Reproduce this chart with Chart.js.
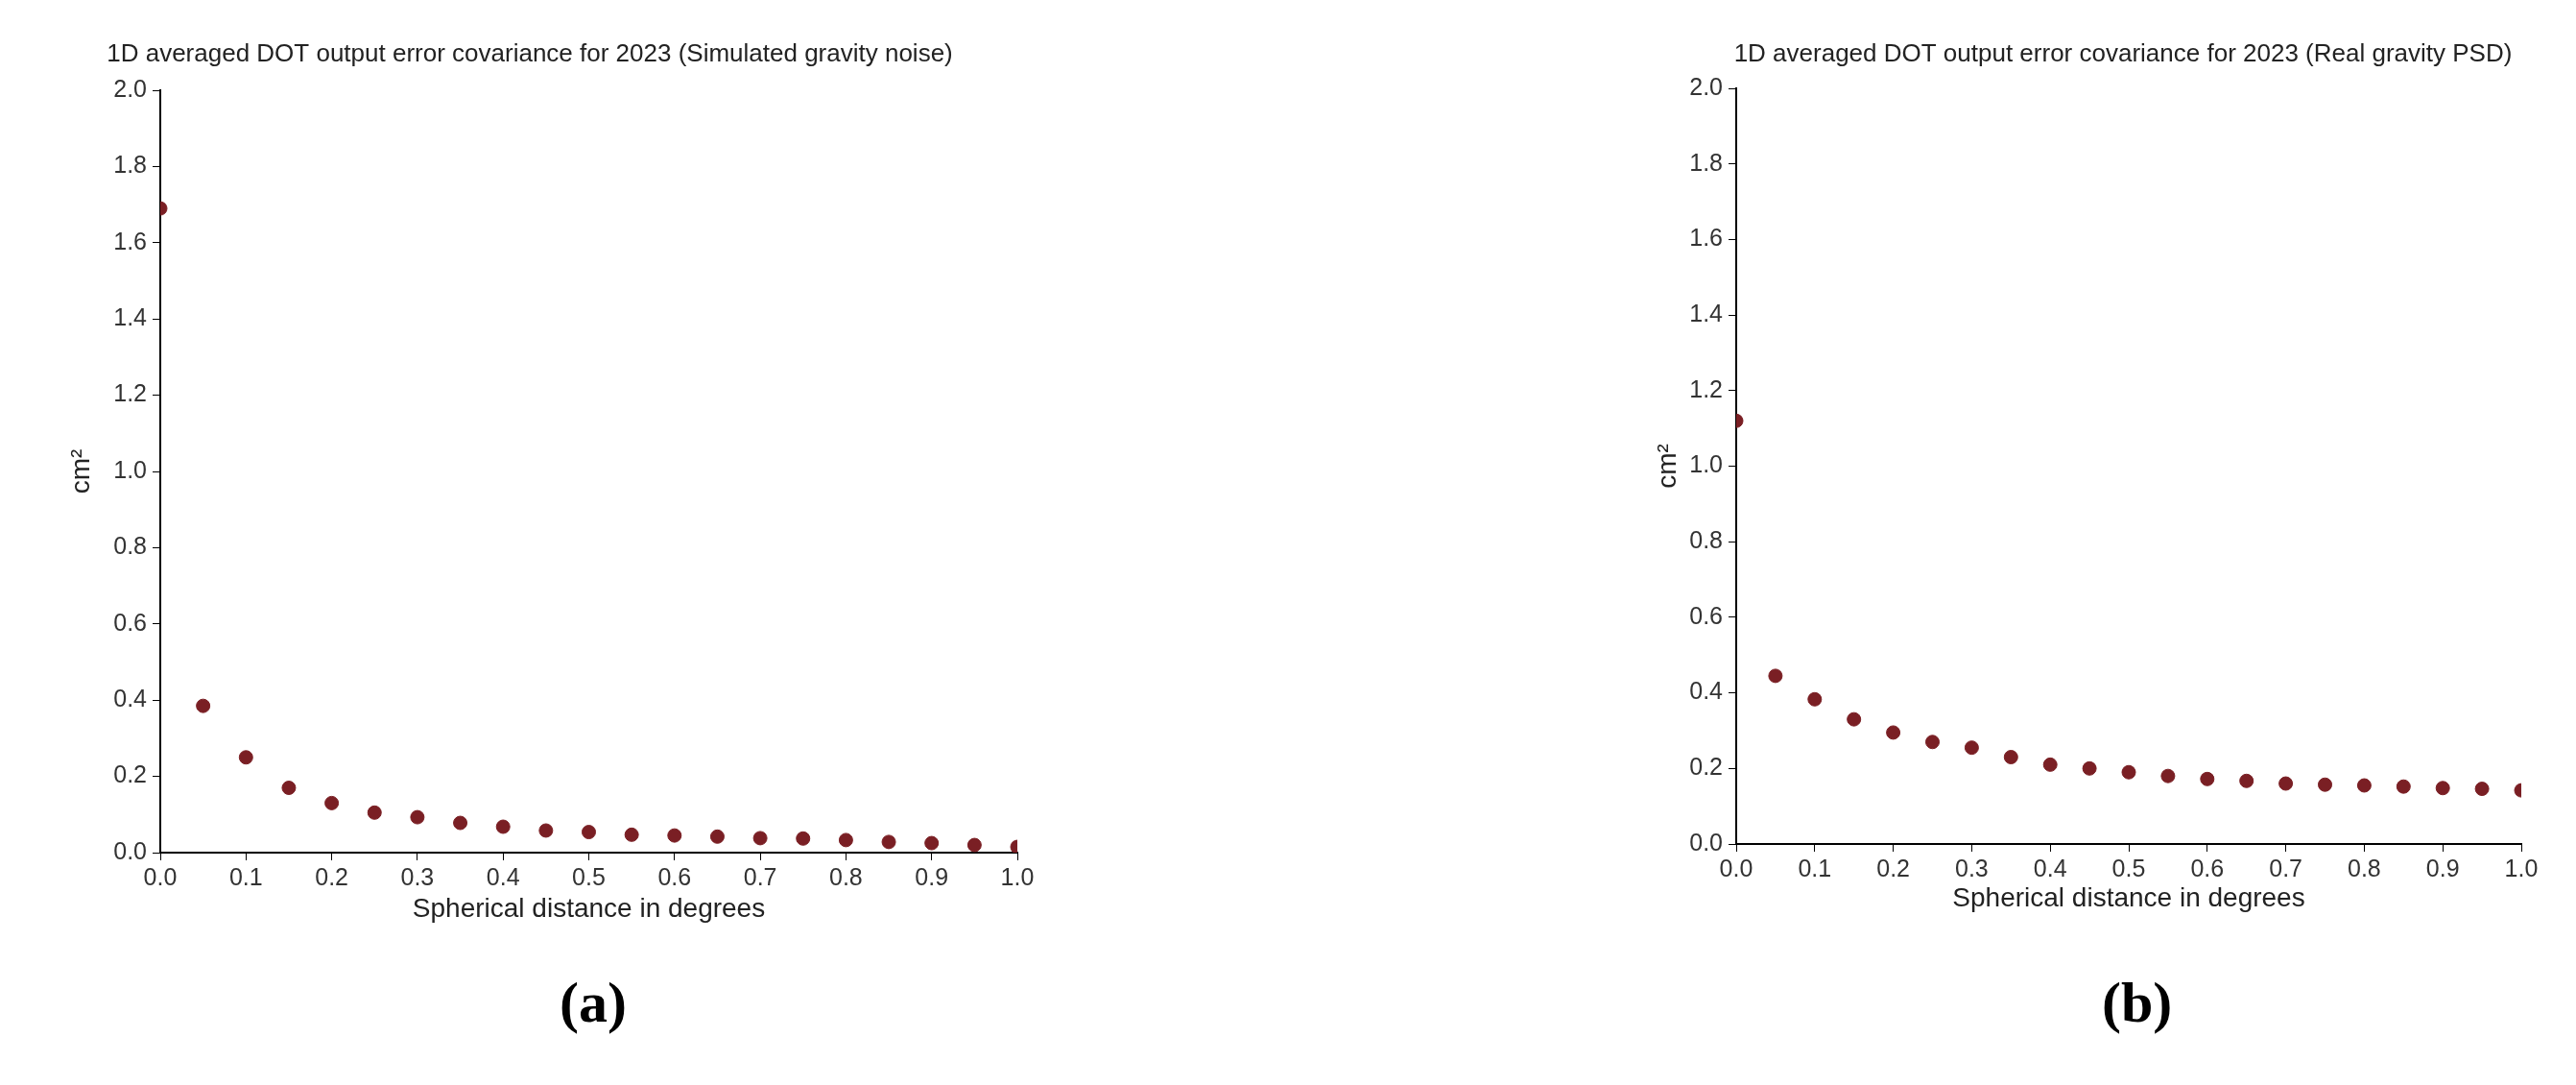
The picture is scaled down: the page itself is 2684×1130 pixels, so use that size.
<!DOCTYPE html>
<html>
<head>
<meta charset="utf-8">
<script src="https://cdn.jsdelivr.net/npm/chart.js@4/dist/chart.umd.min.js"></script>
<style>
  body { margin: 0; background: #fff; width: 2684px; height: 1130px; position: relative; overflow: hidden; }
  .box { position: absolute; top: 0; height: 1000px; }
  .lab { position: absolute; top: 1010px; font: bold 60px "Liberation Serif", serif; color: #000; }
</style>
</head>
<body>
<div class="box" style="left:0;width:1100px"><canvas id="chartA"></canvas></div>
<div class="box" style="left:1640px;width:1044px"><canvas id="chartB"></canvas></div>
<div class="lab" style="left:583px">(a)</div>
<div class="lab" style="left:2190px">(b)</div>
<script>
const distances = [0, 0.05, 0.1, 0.15, 0.2, 0.25, 0.3, 0.35, 0.4, 0.45, 0.5, 0.55, 0.6, 0.65, 0.7, 0.75, 0.8, 0.85, 0.9, 0.95, 1.0];
const covSimulated = [1.69, 0.385, 0.25, 0.17, 0.13, 0.105, 0.093, 0.078, 0.068, 0.058, 0.054, 0.047, 0.045, 0.042, 0.038, 0.037, 0.033, 0.028, 0.025, 0.02, 0.015];
const covReal = [1.12, 0.445, 0.383, 0.33, 0.295, 0.27, 0.255, 0.23, 0.21, 0.2, 0.19, 0.18, 0.172, 0.167, 0.16, 0.157, 0.155, 0.152, 0.148, 0.146, 0.142];
const titleA = "1D averaged DOT output error covariance for 2023 (Simulated gravity noise)";
const titleB = "1D averaged DOT output error covariance for 2023 (Real gravity PSD)";

Chart.defaults.font.family = "'Liberation Sans', Arial, sans-serif";
Chart.defaults.color = "#333";

// title drawn centred above the plot area
const topTitle = {
    id: "topTitle",
    afterDraw(chart, args, opts) {
        const ctx = chart.ctx;
        ctx.save();
        ctx.font = "26px 'Liberation Sans', Arial, sans-serif";
        ctx.fillStyle = "#222";
        ctx.textAlign = "center";
        ctx.textBaseline = "middle";
        ctx.fillText(opts.text, opts.x, opts.y);
        ctx.restore();
    }
};

function makeChart(id, values, cfg) {
    new Chart(document.getElementById(id), {
        type: "scatter",
        data: {
            datasets: [{
                data: distances.map((d, i) => ({ x: d, y: values[i] })),
                backgroundColor: "#7a1f24",
                borderColor: "#7a1f24",
                pointRadius: 7,
                pointHoverRadius: 7
            }]
        },
        options: {
            responsive: true,
            maintainAspectRatio: false,
            animation: false,
            layout: { padding: { top: cfg.top, right: cfg.right, left: cfg.left, bottom: cfg.bottom } },
            plugins: {
                legend: { display: false },
                tooltip: { enabled: false },
                topTitle: { text: cfg.title, x: cfg.titleX, y: 57 }
            },
            scales: {
                x: {
                    type: "linear", min: 0, max: 1,
                    afterFit: s => { s.height = cfg.xH; },
                    ticks: { stepSize: 0.1, font: { size: 25 }, padding: 4, callback: v => v.toFixed(1) },
                    grid: { drawOnChartArea: false, color: "#000", tickLength: 8 },
                    border: { color: "#000", width: 2 },
                    title: { display: true, text: "Spherical distance in degrees", font: { size: 28 }, color: "#222", padding: { top: 0 } }
                },
                y: {
                    min: 0, max: 2,
                    afterFit: s => { s.width = cfg.yW; },
                    ticks: { stepSize: 0.2, font: { size: 25 }, padding: 6, callback: v => v.toFixed(1) },
                    grid: { drawOnChartArea: false, color: "#000", tickLength: 8 },
                    border: { color: "#000", width: 2 },
                    title: { display: true, text: "cm²", font: { size: 28 }, color: "#222" }
                }
            }
        },
        plugins: [topTitle]
    });
}

makeChart("chartA", covSimulated, { top: 94, right: 40, left: 64, bottom: 32, xH: 80, yW: 103, title: titleA, titleX: 552 });
makeChart("chartB", covReal, { top: 92, right: 57, left: 77, bottom: 43, xH: 78, yW: 92, title: titleB, titleX: 572 });
</script>
</body>
</html>
